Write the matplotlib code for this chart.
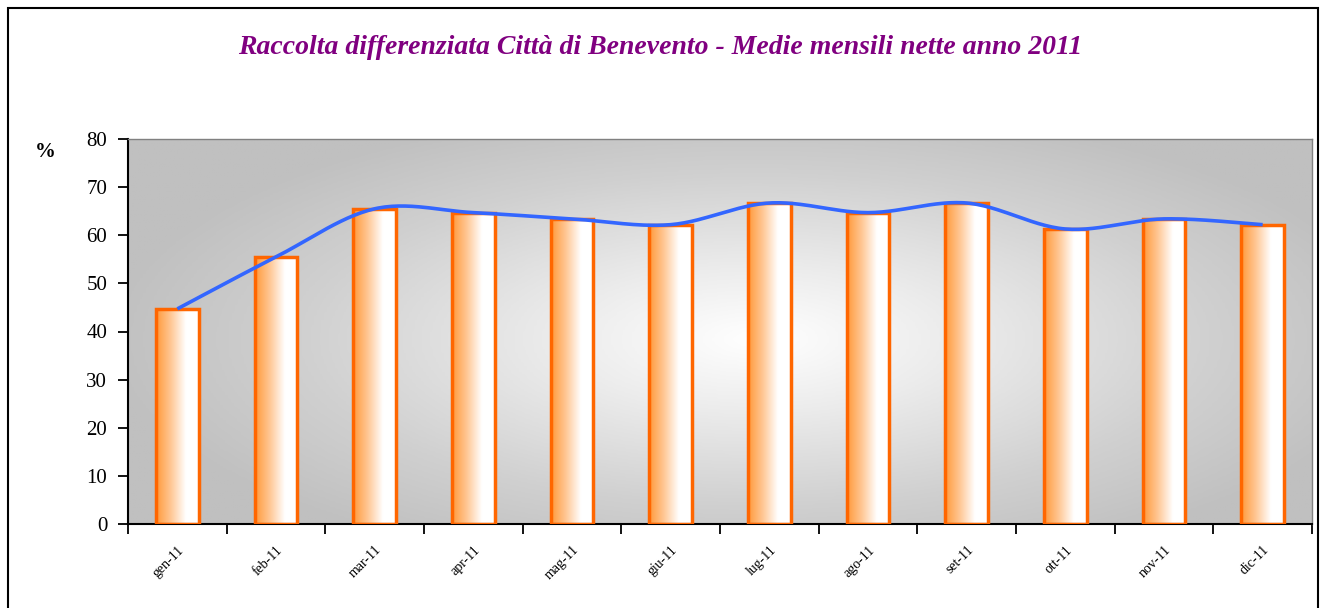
import numpy as np
import matplotlib
matplotlib.use("Agg")
import matplotlib.pyplot as plt
from matplotlib.patches import Rectangle
from matplotlib.colors import LinearSegmentedColormap

months = ["gen-11", "feb-11", "mar-11", "apr-11", "mag-11", "giu-11",
          "lug-11", "ago-11", "set-11", "ott-11", "nov-11", "dic-11"]
values = [44.7, 55.5, 65.5, 64.7, 63.4, 62.2, 66.7, 64.7, 66.7, 61.3, 63.4, 62.2]
yticks = [0, 10, 20, 30, 40, 50, 60, 70, 80]
title = "Raccolta differenziata Città di Benevento - Medie mensili nette anno 2011"

serif = ["Liberation Serif", "DejaVu Serif"]

fig = plt.figure(figsize=(13.21, 6.08), dpi=100)
# figure border
fig.patches.append(Rectangle((8/1321, -0.05), (1318-8)/1321, 1-8/608+0.05,
                             transform=fig.transFigure, fill=False,
                             edgecolor="black", linewidth=1.5))

ax = fig.add_axes([128/1321, 1-524/608, (1312-128)/1321, (524-139)/608])
n = len(values)
ax.set_xlim(0, n)
ax.set_ylim(0, 80)

# background gradient (elliptical, white centre, grey edges)
gx, gy = np.meshgrid(np.linspace(0, 1, 400), np.linspace(0, 1, 200))
d = np.sqrt(((gx - 0.53) / 0.55) ** 2 + ((gy - 0.48) / 0.62) ** 2)
d = np.clip(d, 0, 1)
bg = LinearSegmentedColormap.from_list(
    "bg", [(0, "#ffffff"), (0.3, "#ececec"), (0.7, "#d0d0d0"), (1, "#c0c0c0")])
ax.imshow(d, cmap=bg, extent=[0, n, 0, 80], origin="lower", aspect="auto",
          zorder=0, vmin=0, vmax=1)

# bars with horizontal gradient
bw = 0.43
grad = np.linspace(0, 1, 100).reshape(1, -1)
bcm = LinearSegmentedColormap.from_list(
    "bar", [(0, "#ff9a3c"), (0.35, "#ffc896"), (0.7, "#ffffff"), (1, "#ffffff")])
xs = np.arange(n) + 0.5
for x, v in zip(xs, values):
    x0 = x - bw / 2
    im = ax.imshow(grad, cmap=bcm, extent=[x0, x0 + bw, 0, v], origin="lower",
                   aspect="auto", zorder=2)
    r = Rectangle((x0, 0), bw, v, facecolor="none", edgecolor="#ff6600",
                  linewidth=2.5, zorder=3)
    ax.add_patch(r)
    im.set_clip_path(r)

# smoothed line (Bezier smoothing like Excel)
px = np.array(xs)
py = np.array(values, dtype=float)
cx, cy = [], []
for i in range(n - 1):
    p0 = (px[i - 1], py[i - 1]) if i > 0 else (px[i], py[i])
    p1 = (px[i], py[i])
    p2 = (px[i + 1], py[i + 1])
    p3 = (px[i + 2], py[i + 2]) if i + 2 < n else (px[i + 1], py[i + 1])
    c1 = (p1[0] + (p2[0] - p0[0]) / 6, p1[1] + (p2[1] - p0[1]) / 6)
    c2 = (p2[0] - (p3[0] - p1[0]) / 6, p2[1] - (p3[1] - p1[1]) / 6)
    t = np.linspace(0, 1, 30)
    bx = (1-t)**3*p1[0] + 3*(1-t)**2*t*c1[0] + 3*(1-t)*t**2*c2[0] + t**3*p2[0]
    by = (1-t)**3*p1[1] + 3*(1-t)**2*t*c1[1] + 3*(1-t)*t**2*c2[1] + t**3*p2[1]
    cx.extend(bx); cy.extend(by)
ax.plot(cx, cy, color="#3366ff", linewidth=2.6, zorder=4, solid_capstyle="butt")

# axes styling
ax.set_yticks(yticks)
ax.set_yticklabels([str(t) for t in yticks], fontfamily=serif, fontsize=15)
ax.set_xticks(np.arange(n + 1))
ax.set_xticklabels([])
ax.set_xticks(xs, minor=True)
ax.set_xticklabels(months, minor=True, rotation=45, ha="right", rotation_mode="anchor",
                   fontsize=10, fontfamily=serif)
ax.tick_params(axis="x", which="minor", length=0, pad=14)
ax.tick_params(axis="x", which="major", length=7, width=1.3, direction="out")
ax.tick_params(axis="y", length=7, width=1.3, direction="out", pad=8)
ax.spines["left"].set_linewidth(1.5)
ax.spines["bottom"].set_linewidth(1.5)
for s in ("top", "right"):
    ax.spines[s].set_color("#808080")
    ax.spines[s].set_linewidth(1)

fig.text(45/1321, 1-152/608, "%", fontfamily=serif, fontsize=15, fontweight="bold",
         ha="center", va="center")
fig.text(660/1321, 1-47/608, title, fontfamily=serif, fontsize=20, fontweight="bold",
         fontstyle="italic", color="#800080", ha="center", va="center")

fig.savefig("out.png", dpi=100)
